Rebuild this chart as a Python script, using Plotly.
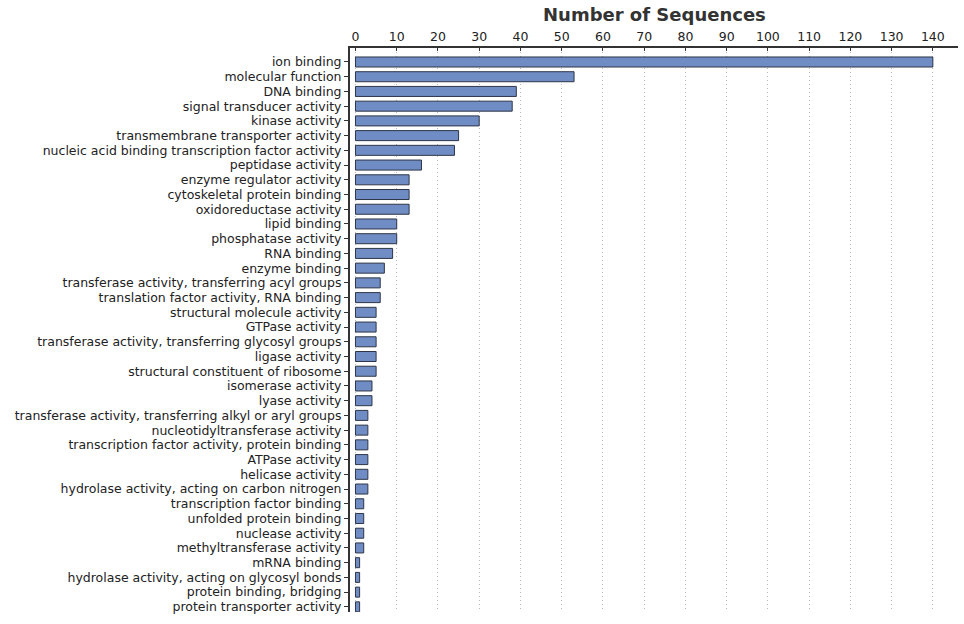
import plotly.graph_objects as go

BAR_COLOR = "#6f8dc4"
BAR_LINE = "#2e3547"
TEXT_COLOR = "#222222"

categories = [
    "ion binding",
    "molecular function",
    "DNA binding",
    "signal transducer activity",
    "kinase activity",
    "transmembrane transporter activity",
    "nucleic acid binding transcription factor activity",
    "peptidase activity",
    "enzyme regulator activity",
    "cytoskeletal protein binding",
    "oxidoreductase activity",
    "lipid binding",
    "phosphatase activity",
    "RNA binding",
    "enzyme binding",
    "transferase activity, transferring acyl groups",
    "translation factor activity, RNA binding",
    "structural molecule activity",
    "GTPase activity",
    "transferase activity, transferring glycosyl groups",
    "ligase activity",
    "structural constituent of ribosome",
    "isomerase activity",
    "lyase activity",
    "transferase activity, transferring alkyl or aryl groups",
    "nucleotidyltransferase activity",
    "transcription factor activity, protein binding",
    "ATPase activity",
    "helicase activity",
    "hydrolase activity, acting on carbon nitrogen",
    "transcription factor binding",
    "unfolded protein binding",
    "nuclease activity",
    "methyltransferase activity",
    "mRNA binding",
    "hydrolase activity, acting on glycosyl bonds",
    "protein binding, bridging",
    "protein transporter activity",
]

sequences = [
    140, 53, 39, 38, 30, 25, 24, 16, 13, 13, 13, 10, 10, 9, 7, 6, 6, 5, 5, 5,
    5, 5, 4, 4, 3, 3, 3, 3, 3, 3, 2, 2, 2, 2, 1, 1, 1, 1,
]

x_ticks = list(range(0, 150, 10))

fig = go.Figure(
    go.Bar(
        x=sequences,
        y=categories,
        orientation="h",
        width=0.68,
        marker=dict(color=BAR_COLOR, line=dict(color=BAR_LINE, width=1)),
    )
)

fig.update_layout(
    width=964,
    height=624,
    margin=dict(l=350, r=6, t=48, b=12),
    plot_bgcolor="#FFFFFF",
    paper_bgcolor="#FFFFFF",
    showlegend=False,
    font=dict(family="DejaVu Sans", size=12, color=TEXT_COLOR),
)

fig.update_xaxes(
    side="top",
    automargin=False,
    range=[-1.33, 146.1],
    tickvals=x_ticks,
    ticktext=[str(t) for t in x_ticks],
    showgrid=True,
    gridcolor="#b8b8b8",
    griddash="1px,3px",
    gridwidth=1,
    showline=True,
    linecolor="#333333",
    linewidth=1.5,
    ticks="inside",
    ticklen=3,
    tickcolor="#333333",
    tickfont=dict(family="DejaVu Sans", size=12.5, color=TEXT_COLOR),
    zeroline=False,
)

fig.update_yaxes(
    automargin=False,
    categoryorder="array",
    categoryarray=categories,
    tickmode="array",
    tickvals=categories,
    ticktext=categories,
    range=[37.35, -0.95],
    showline=True,
    linecolor="#333333",
    linewidth=2,
    ticks="outside",
    ticklen=4,
    tickcolor="#333333",
    tickfont=dict(family="DejaVu Sans", size=12.5, color=TEXT_COLOR),
    showgrid=False,
)

fig.add_annotation(
    text="<b>Number of Sequences</b>",
    x=0.5,
    y=1,
    xref="paper",
    yref="paper",
    yshift=34,
    yanchor="middle",
    showarrow=False,
    font=dict(family="DejaVu Sans", size=18, color="#333333"),
)

# drop the browser's default body margin so the figure sits at 0,0
fig.write_html(
    "out.html",
    config={"displayModeBar": False},
    post_script="document.body.style.margin = '0';",
)
